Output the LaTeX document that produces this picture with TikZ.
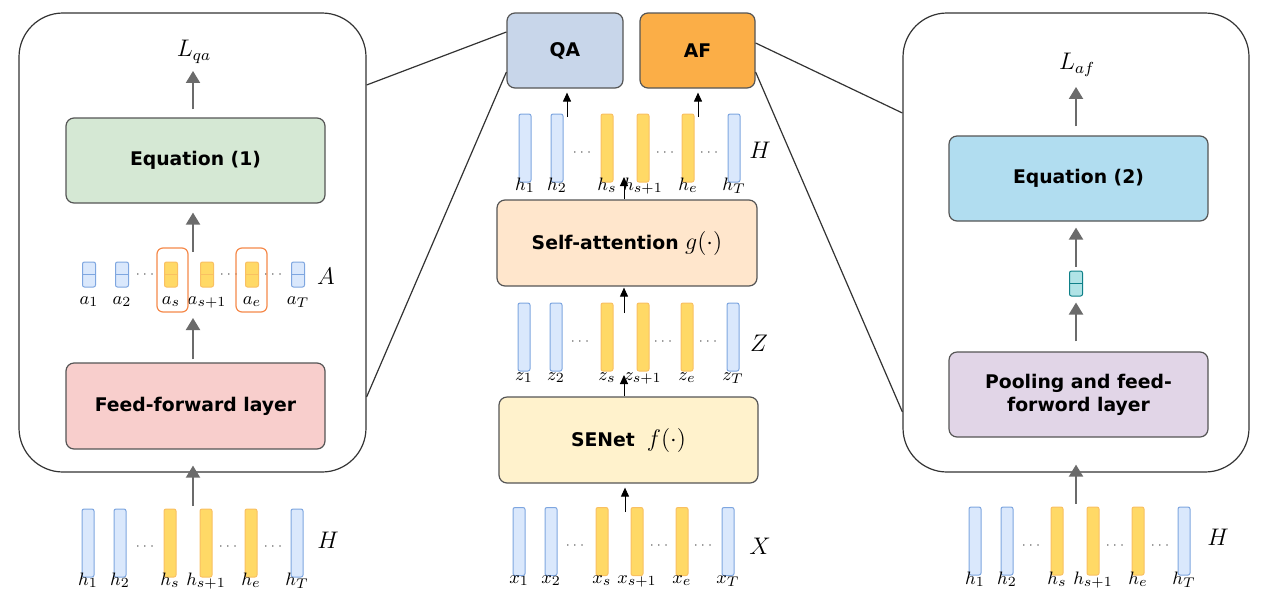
\documentclass[tikz,border=0pt]{standalone}
\usepackage{fontspec}
\newfontfamily\boxfont{DejaVu Sans}
\usetikzlibrary{arrows.meta}
\definecolor{panelgray}{HTML}{333333}
\definecolor{boxgray}{HTML}{555555}
\definecolor{arrowgray}{HTML}{6B6B6B}
\definecolor{dotgray}{HTML}{444444}
\definecolor{vecblue}{HTML}{7EA6E0}
\definecolor{vecbluefill}{HTML}{DAE8FC}
\definecolor{vecyellow}{HTML}{F9C062}
\definecolor{vecyellowfill}{HTML}{FFD966}
\definecolor{hiorange}{HTML}{F5894A}
\definecolor{tealline}{HTML}{0E8088}
\definecolor{tealfill}{HTML}{B0E3E6}
\definecolor{eqonefill}{HTML}{D5E8D4}
\definecolor{fflfill}{HTML}{F8CECC}
\definecolor{qafill}{HTML}{C8D6EA}
\definecolor{affill}{HTML}{FBAE47}
\definecolor{safill}{HTML}{FFE6CC}
\definecolor{senetfill}{HTML}{FFF2CC}
\definecolor{eqtwofill}{HTML}{B1DDF0}
\definecolor{poolfill}{HTML}{E1D5E7}
\begin{document}
\begin{tikzpicture}[x=0.5pt,y=-0.5pt,
    panel/.style={draw=panelgray, line width=0.6pt, rounded corners=22pt, inner sep=0pt},
    block/.style={draw=boxgray, line width=0.6pt, rounded corners=4pt, inner sep=0pt,
        align=center, font=\boxfont\bfseries\fontsize{9.4}{11.5}\selectfont},
    vecb/.style={draw=vecblue, fill=vecbluefill, line width=0.5pt, rounded corners=1pt,
        minimum width=6pt, minimum height=34pt, inner sep=0pt},
    vecy/.style={vecb, draw=vecyellow, fill=vecyellowfill},
    cellb/.style={vecb, minimum width=6.5pt, minimum height=12.5pt,
        path picture={\draw[vecblue, line width=0.5pt] (path picture bounding box.west) -- (path picture bounding box.east);}},
    celly/.style={cellb, draw=vecyellow, fill=vecyellowfill,
        path picture={\draw[vecyellow, line width=0.5pt] (path picture bounding box.west) -- (path picture bounding box.east);}},
    cellt/.style={cellb, draw=tealline, fill=tealfill,
        path picture={\draw[tealline, line width=0.5pt] (path picture bounding box.west) -- (path picture bounding box.east);}},
    hilite/.style={draw=hiorange, line width=0.6pt, rounded corners=3pt, inner sep=0pt},
    lbl/.style={inner sep=0pt, anchor=base, font=\fontsize{9.5}{11}\selectfont},
    dots/.style={inner sep=0pt, text=dotgray, font=\fontsize{6}{7}\selectfont},
    big/.style={inner sep=0pt, font=\fontsize{12}{14}\selectfont},
    garrow/.style={draw=arrowgray, line width=1pt, -{Triangle[width=7pt,length=6pt]}},
    karrow/.style={draw=black, line width=0.5pt, -{Triangle[width=4pt,length=4.5pt]}},
    link/.style={draw=panelgray, line width=0.6pt}]
\useasboundingbox (0,0) rectangle (1268,606);

% left panel: QA head
\node[panel, minimum width=173.5pt, minimum height=229.5pt] (qapanel) at (192.5,242.5) {};
\node[big] (lqa) at (194,52) {$L_{qa}$};
\node[block, fill=eqonefill, minimum width=129.5pt, minimum height=42.5pt] (eqone) at (195.5,160.5) {Equation (1)};
\node[block, fill=fflfill, minimum width=129.5pt, minimum height=43pt] (ffl) at (195.5,406) {Feed-forward layer};
\foreach \n/\x/\s/\lab in {1/89/cellb/a_1, 2/122/cellb/a_2, s/171/celly/a_s, s1/207/celly/a_{s+1}, e/252/celly/a_e, T/298/cellb/a_T} {
    \node[\s] (la\n) at (\x,274.5) {};
    \node[lbl] (la\n l) at (\x,304) {$\lab$};
}
\foreach \n/\x in {1/145, 2/229, 3/273}
    \node[dots] (lad\n) at (\x,275) {$\cdots$};
\node[hilite, minimum width=15.5pt, minimum height=32pt] (hls) at (172.5,280) {};
\node[hilite, minimum width=15.5pt, minimum height=32pt] (hle) at (251.5,280) {};
\node[big] (lA) at (326,276) {$A$};
\foreach \n/\x/\s/\lab in {1/88/vecb/h_1, 2/120/vecb/h_2, s/170/vecy/h_s, s1/206/vecy/h_{s+1}, e/251/vecy/h_e, T/297/vecb/h_T} {
    \node[\s] (lh\n) at (\x,543) {};
    \node[lbl] (lh\n l) at (\x,585) {$\lab$};
}
\foreach \n/\x in {1/145, 2/228, 3/273}
    \node[dots] (lhd\n) at (\x,547) {$\cdots$};
\node[big] (lH) at (328,540) {$H$};
\coordinate (aout) at (193,252);
\coordinate (ain) at (193,318);
\coordinate (lhout) at (193,506);
\draw[garrow, shorten <=4pt, shorten >=3.5pt] (eqone.north -| aout) -- (lqa.south -| aout);
\draw[garrow, shorten >=4.5pt] (aout) -- (eqone.south -| aout);
\draw[garrow, shorten <=1.5pt] (ffl.north -| ain) -- (ain);
\draw[garrow, shorten >=8pt] (lhout) -- (ffl.south -| lhout);

% middle: shared encoder
\node[block, fill=qafill, minimum width=58pt, minimum height=37.5pt] (qa) at (565,50.5) {QA};
\node[block, fill=affill, minimum width=57.5pt, minimum height=37.5pt] (af) at (697.5,50.5) {AF};
\node[block, fill=safill, minimum width=130pt, minimum height=43pt] (sa) at (627,243)
    {Self-attention {\fontsize{12}{14}\selectfont$g(\cdot)$}};
\node[block, fill=senetfill, minimum width=129.5pt, minimum height=43pt] (senet) at (628.5,440)
    {SENet\hspace{6pt}{\fontsize{12}{14}\selectfont$f(\cdot)$}};
\foreach \n/\x/\s/\lab in {1/525/vecb/h_1, 2/557/vecb/h_2, s/607/vecy/h_s, s1/643/vecy/h_{s+1}, e/688/vecy/h_e, T/734/vecb/h_T} {
    \node[\s] (mh\n) at (\x,148) {};
    \node[lbl] (mh\n l) at (\x,190) {$\lab$};
}
\foreach \n/\x in {1/582, 2/665, 3/709}
    \node[dots] (mhd\n) at (\x,153) {$\cdots$};
\node[big] (mH) at (760,150) {$H$};
\foreach \n/\x/\s/\lab in {1/524/vecb/z_1, 2/556/vecb/z_2, s/607/vecy/z_s, s1/643/vecy/z_{s+1}, e/687/vecy/z_e, T/733/vecb/z_T} {
    \node[\s] (mz\n) at (\x,337) {};
    \node[lbl] (mz\n l) at (\x,380) {$\lab$};
}
\foreach \n/\x in {1/580, 2/663, 3/708}
    \node[dots] (mzd\n) at (\x,342) {$\cdots$};
\node[big] (mZ) at (759,343) {$Z$};
\foreach \n/\x/\s/\lab in {1/519/vecb/x_1, 2/551/vecb/x_2, s/602/vecy/x_s, s1/637/vecy/x_{s+1}, e/682/vecy/x_e, T/728/vecb/x_T} {
    \node[\s] (mx\n) at (\x,541.5) {};
    \node[lbl] (mx\n l) at (\x,583) {$\lab$};
}
\foreach \n/\x in {1/575, 2/659, 3/703}
    \node[dots] (mxd\n) at (\x,546) {$\cdots$};
\node[big] (mX) at (760,546) {$X$};
\coordinate (xout) at (625,512);
\coordinate (zin) at (624,375);
\coordinate (zout) at (624,313);
\coordinate (hin) at (624,177);
\coordinate (qaout) at (567,117);
\coordinate (afout) at (698,117);
\draw[karrow, shorten >=2pt] (xout) -- (senet.south -| xout);
\draw[karrow] (senet.north -| zin) -- (zin);
\draw[karrow, shorten >=0.5pt] (zout) -- (sa.south -| zout);
\draw[karrow] (sa.north -| hin) -- (hin);
\draw[karrow, shorten >=2pt] (qaout) -- (qa.south -| qaout);
\draw[karrow, shorten >=2pt] (afout) -- (af.south -| afout);

% right panel: AF head
\node[panel, minimum width=173pt, minimum height=229.5pt] (afpanel) at (1076,242.5) {};
\node[big] (laf) at (1077,65) {$L_{af}$};
\node[block, fill=eqtwofill, minimum width=129.5pt, minimum height=42.5pt] (eqtwo) at (1078.5,178.5) {Equation (2)};
\node[cellt] (pooled) at (1076,283.5) {};
\node[block, fill=poolfill, minimum width=129.5pt, minimum height=42.5pt] (pool) at (1078.5,394.5)
    {Pooling and feed-\\forword layer};
\foreach \n/\x/\s/\lab in {1/975/vecb/h_1, 2/1007/vecb/h_2, s/1057/vecy/h_s, s1/1093/vecy/h_{s+1}, e/1138/vecy/h_e, T/1184/vecb/h_T} {
    \node[\s] (rh\n) at (\x,541) {};
    \node[lbl] (rh\n l) at (\x,584) {$\lab$};
}
\foreach \n/\x in {1/1031, 2/1115, 3/1160}
    \node[dots] (rhd\n) at (\x,546) {$\cdots$};
\node[big] (rH) at (1218,537) {$H$};
\coordinate (rhout) at (1076,504);
\draw[garrow, shorten <=4.5pt, shorten >=5pt] (eqtwo.north -| pooled) -- (laf.south -| pooled);
\draw[garrow, shorten <=2pt, shorten >=3pt] (pooled.north) -- (eqtwo.south -| pooled);
\draw[garrow, shorten <=5pt, shorten >=3pt] (pool.north -| pooled) -- (pooled.south);
\draw[garrow, shorten >=13.5pt] (rhout) -- (pool.south -| rhout);

% zoom lines
\draw[link] (qapanel.east |- 0,85) -- (qa.west |- 0,32);
\draw[link] (qapanel.east |- 0,397) -- (qa.west |- 0,72);
\draw[link] (af.east |- 0,43) -- (afpanel.west |- 0,113);
\draw[link] (af.east |- 0,72) -- (afpanel.west |- 0,412);
\end{tikzpicture}
\end{document}
